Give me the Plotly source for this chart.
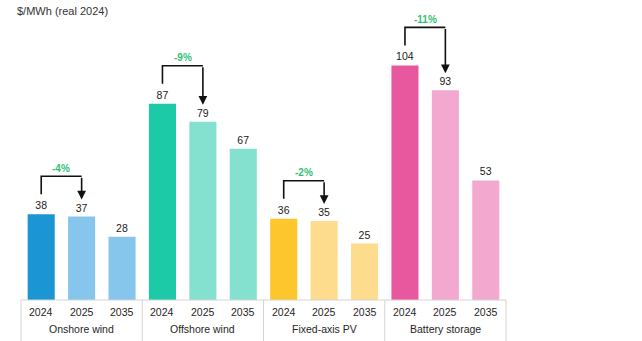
import plotly.graph_objects as go

categories = ["Onshore wind", "Offshore wind", "Fixed-axis PV", "Battery storage"]
years = ["2024", "2025", "2035"]
onshore = [38, 37, 28]
offshore = [87, 79, 67]
fixed_pv = [36, 35, 25]
battery = [104, 93, 53]
changes = ["-4%", "-9%", "-2%", "-11%"]
unit_label = "$/MWh (real 2024)"

series = [onshore, offshore, fixed_pv, battery]
dark = ["#1b95d4", "#1ccaa7", "#fcc62c", "#e8589e"]
light = ["#86c6ec", "#84e0cf", "#fddc8e", "#f3a8cf"]

W, H = 642, 341
ml, mr, mt, mb = 21, 136, 0, 41
plot_h = H - mt - mb
ymax = 133.0
px = ymax / plot_h  # data units per pixel
FONT = "Liberation Sans, Arial"

xs, ys, cols, texts = [], [], [], []
for g, vals in enumerate(series):
    for k, v in enumerate(vals):
        xs.append(g * 3 + k)
        ys.append(v)
        cols.append(dark[g] if k == 0 else light[g])
        texts.append(str(v))

fig = go.Figure()
fig.add_trace(go.Bar(
    x=xs, y=ys, width=0.67,
    marker=dict(color=cols, line=dict(width=0)),
    text=texts, textposition="outside", cliponaxis=False,
    textfont=dict(family=FONT, size=10.5, color="#1a1a1a"),
    hoverinfo="skip",
))

shapes = []
annotations = []
line_col = "#d4d4d4"
shapes.append(dict(type="line", xref="paper", yref="paper", x0=0, x1=1, y0=0, y1=0,
                   line=dict(color=line_col, width=1)))
for i in range(len(categories) + 1):
    xp = i / len(categories)
    shapes.append(dict(type="line", xref="paper", yref="paper", x0=xp, x1=xp, y0=0, y1=-mb / plot_h,
                       line=dict(color=line_col, width=1)))

for i, x in enumerate(xs):
    annotations.append(dict(x=x, xref="x", y=-12 / plot_h, yref="paper", text=years[i % 3],
                            showarrow=False, yanchor="middle",
                            font=dict(family=FONT, size=10.5, color="#262626")))
for g, c in enumerate(categories):
    annotations.append(dict(x=g * 3 + 1, xref="x", y=-29 / plot_h, yref="paper", text=c,
                            showarrow=False, yanchor="middle",
                            font=dict(family=FONT, size=10.5, color="#262626")))

for g, vals in enumerate(series):
    x0, x1 = g * 3, g * 3 + 1
    top = vals[0] + 38 * px
    leg = vals[0] + 20 * px
    tip = vals[1] + 17 * px
    shapes.append(dict(type="path", xref="x", yref="y",
                       path=f"M {x0},{leg} L {x0},{top} L {x1},{top}",
                       line=dict(color="#111111", width=1.6)))
    annotations.append(dict(x=x1, y=tip, xref="x", yref="y", ax=x1, ay=top, axref="x", ayref="y",
                            text="", showarrow=True, arrowhead=2, arrowsize=1.1, arrowwidth=1.6,
                            arrowcolor="#111111", standoff=0))
    annotations.append(dict(x=(x0 + x1) / 2, y=top + 8 * px, xref="x", yref="y",
                            text=f"<b>{changes[g]}</b>", showarrow=False, yanchor="middle",
                            font=dict(family=FONT, size=10, color="#33bf73")))

annotations.append(dict(x=(15 - ml) / (W - ml - mr), xref="paper", xanchor="left",
                        y=(plot_h - 11) / plot_h, yref="paper", text=unit_label,
                        showarrow=False, yanchor="middle",
                        font=dict(family=FONT, size=11, color="#333333")))

fig.update_layout(
    width=W, height=H, margin=dict(l=ml, r=mr, t=mt, b=mb),
    paper_bgcolor="white", plot_bgcolor="white",
    showlegend=False,
    xaxis=dict(range=[-0.5, 11.5], visible=False, fixedrange=True),
    yaxis=dict(range=[0, ymax], visible=False, fixedrange=True),
    shapes=shapes, annotations=annotations,
)
fig.write_html("out.html")
